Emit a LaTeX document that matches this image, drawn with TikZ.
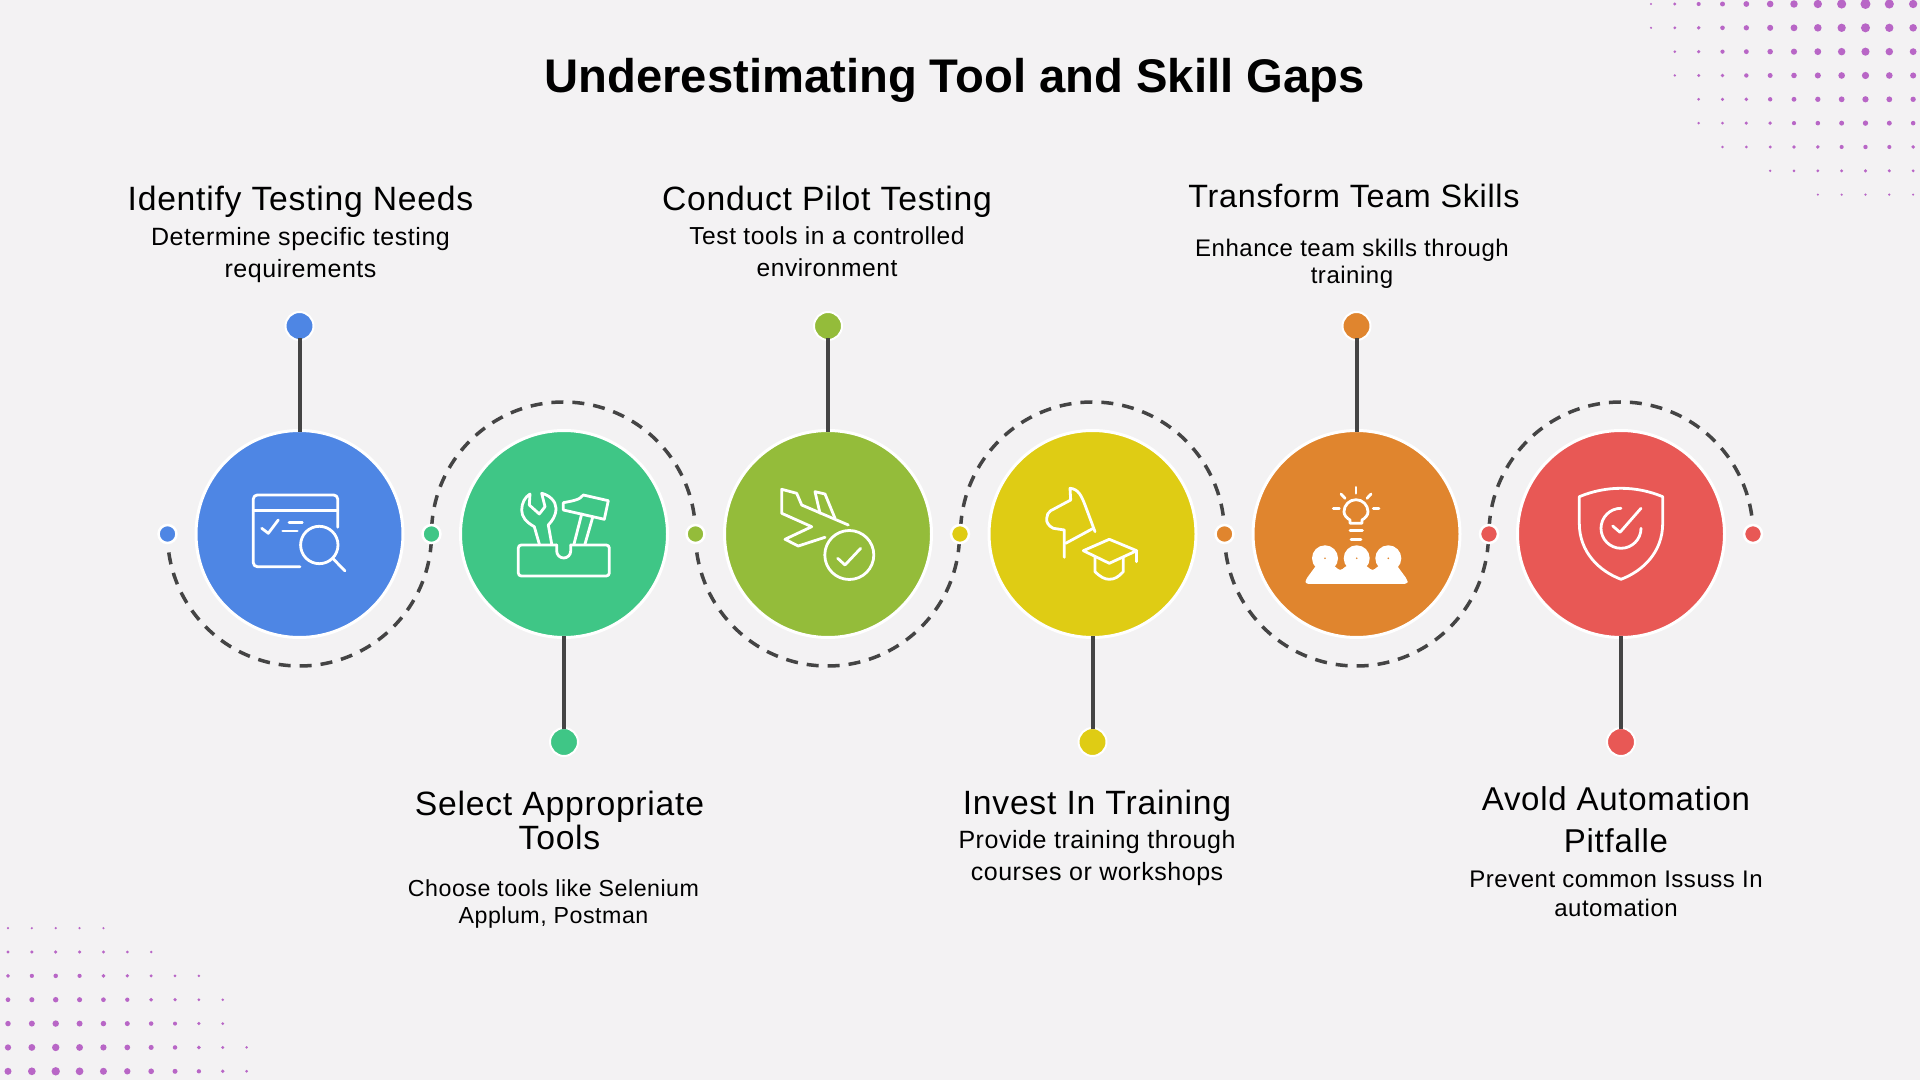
\documentclass[tikz,border=0pt]{standalone}
\usepackage{fontspec}
\setmainfont{Liberation Sans}[LetterSpace=2.2]
\newfontfamily\titlefont{Liberation Sans}
\pgfdeclarelayer{background}
\pgfsetlayers{background,main}
\definecolor{pagebg}{HTML}{F3F2F3}
\definecolor{dotpurple}{HTML}{B866C6}
\definecolor{stemgrey}{HTML}{444444}
\definecolor{stepblue}{HTML}{4E86E4}
\definecolor{stepgreen}{HTML}{3FC686}
\definecolor{stepolive}{HTML}{94BC3A}
\definecolor{stepyellow}{HTML}{DFCC14}
\definecolor{steporange}{HTML}{E0852E}
\definecolor{stepred}{HTML}{E85855}
\tikzset{
  stepnode/.style={circle,draw=white,line width=3pt,minimum size=207pt,inner sep=0pt},
  pinnode/.style={circle,draw=white,line width=2pt,minimum size=28pt,inner sep=0pt},
  linknode/.style={circle,draw=white,line width=2.5pt,minimum size=18pt,inner sep=0pt},
  stemline/.style={stemgrey,line width=4pt,shorten <=-2.5pt,shorten >=-3pt},
  dashline/.style={stemgrey,line width=3.5pt,dash pattern=on 12pt off 9pt,dash phase=2.5pt},
  iconscope/.style={white,line width=2.8pt,line cap=round,line join=round},
  headtext/.style={align=center,inner sep=0pt,font=\fontsize{33.7}{37}\selectfont},
  desctext/.style={align=center,inner sep=0pt,font=\fontsize{25}{32}\selectfont}
}
\begin{document}
\begin{tikzpicture}[x=1pt,y=1pt]
\begin{pgfonlayer}{background}
\fill[pagebg](0,0)rectangle(1920,1080);
\end{pgfonlayer}
\useasboundingbox(0,0)rectangle(1920,1080);
%
\foreach \row/\first in {0/0,1/0,2/1,3/1,4/2,5/2,6/3,7/5,8/7}{
  \foreach \col in {\first,...,11}{
    \pgfmathsetmacro\dotr{0.8+4.2*(1-\row/9)*(1-abs(\col-9)/10)}
    \fill[dotpurple](1651+\col*23.83,1076-\row*23.83) circle (\dotr);
  }
}
\foreach \row/\last in {0/10,1/10,2/9,3/9,4/8,5/6,6/4}{
  \foreach \col in {0,...,\last}{
    \pgfmathsetmacro\dotr{0.8+3.4*(1-\row/7)*(1-abs(\col-2)/10)}
    \fill[dotpurple](8+\col*23.86,8.7+\row*23.86) circle (\dotr);
  }
}
%
\node[font=\titlefont\bfseries\fontsize{47.2}{52}\selectfont,inner sep=0pt] (title) at (954.5,1000) {Underestimating Tool and Skill Gaps};
%
\node[stepnode,fill=stepblue] (step1) at (299.5,546) {};
\node[stepnode,fill=stepgreen] (step2) at (564,546) {};
\node[stepnode,fill=stepolive] (step3) at (828,546) {};
\node[stepnode,fill=stepyellow] (step4) at (1092.5,546) {};
\node[stepnode,fill=steporange] (step5) at (1356.5,546) {};
\node[stepnode,fill=stepred] (step6) at (1621,546) {};
%
\node[pinnode,fill=stepblue] (pin1) at (299.5,754) {};
\node[pinnode,fill=stepgreen] (pin2) at (564,338) {};
\node[pinnode,fill=stepolive] (pin3) at (828,754) {};
\node[pinnode,fill=stepyellow] (pin4) at (1092.5,338) {};
\node[pinnode,fill=steporange] (pin5) at (1356.5,754) {};
\node[pinnode,fill=stepred] (pin6) at (1621,338) {};
%
\node[linknode,fill=stepblue] (link1) at (167.5,546) {};
\node[linknode,fill=stepgreen] (link2) at (431.5,546) {};
\node[linknode,fill=stepolive] (link3) at (695.5,546) {};
\node[linknode,fill=stepyellow] (link4) at (960,546) {};
\node[linknode,fill=steporange] (link5) at (1224.5,546) {};
\node[linknode,fill=stepred] (link6) at (1489,546) {};
\node[linknode,fill=stepred] (link7) at (1753,546) {};
%
\draw[stemline](pin1)--(step1);
\draw[stemline](pin2)--(step2);
\draw[stemline](pin3)--(step3);
\draw[stemline](pin4)--(step4);
\draw[stemline](pin5)--(step5);
\draw[stemline](pin6)--(step6);
%
\begin{pgfonlayer}{background}
\draw[dashline](link1.center) arc[start angle=180,end angle=360,radius=132];
\draw[dashline](link3.center) arc[start angle=0,end angle=180,radius=132];
\draw[dashline](link3.center) arc[start angle=180,end angle=360,radius=132];
\draw[dashline](link5.center) arc[start angle=0,end angle=180,radius=132];
\draw[dashline](link5.center) arc[start angle=180,end angle=360,radius=132];
\draw[dashline](link7.center) arc[start angle=0,end angle=180,radius=132];
\end{pgfonlayer}
%
\begin{scope}[shift={(step1.center)},iconscope]
\draw[rounded corners=4pt](0.5,-32.7)--(-46.2,-32.7)--(-46.2,39)--(38.2,39)--(38.2,6.7);
\draw(-46.2,23.3)--(38.2,23.3);
\draw(-37.8,5.7)--(-31.2,0.7)--(-21.2,14);
\draw(-10.5,11.3)--(2.8,11.3);
\draw(-16.8,3)--(-2.2,3);
\draw(19.8,-11) circle (18.7);
\draw(33.2,-24.3)--(45.5,-37);
\end{scope}
%
\begin{scope}[shift={(step2.center)},iconscope]
\draw[rounded corners=3pt](-7.3,-11)--(-45.7,-11)--(-45.7,-42)--(45.3,-42)--(45.3,-11)--(6.7,-11);
\draw(-7.3,-11)--(-7.3,-17) arc[start angle=180,end angle=360,radius=7]--(6.7,-11);
\draw(-24.7,-10)--(-29.7,7.3) .. controls (-38,12) and (-42.3,17) .. (-42.3,24) .. controls (-42.3,31) and (-39,37) .. (-34,40)--(-34.7,29)--(-24.7,20)--(-19,27.3)--(-22.3,40.7) .. controls (-15,39) and (-8,33) .. (-8,25.7) .. controls (-8,18) and (-12,13) .. (-15.7,9)--(-12.3,-10);
\draw(-0.7,31.3)--(-0.7,24)--(40.3,14.7)--(44.3,33.3)--(19.3,39) .. controls (16,34) and (8,33) .. (-0.7,31.3);
\draw(17.7,20)--(10,-10);
\draw(28.7,16.7)--(21,-10);
\end{scope}
%
\begin{scope}[shift={(step3.center)},iconscope]
\draw(20.3,9)--(-26.3,29)--(-31.3,40.7)--(-46.3,44.7)--(-46.3,20.7)--(-16.3,7.3)--(-43,-5.3)--(-29.7,-12)--(-3,-3.3);
\draw(-8,20.7)--(-13,42.3)--(-3,40)--(7,15.7);
\draw(21.3,-21) circle (24.5);
\draw(9.7,-24.3)--(17,-31)--(32.7,-14.3);
\end{scope}
%
\begin{scope}[shift={(step4.center)},iconscope]
\draw(-28.2,-23.3)--(-28.2,4)--(-39.2,5.7) .. controls (-44,8) and (-46.5,12) .. (-45.8,15.7) .. controls (-46,19) and (-44,22) .. (-41.8,23.3)--(-21.8,34)--(-22.5,45.7) .. controls (-14,45) and (-11,38) .. (-7.5,29)--(2.5,2.3);
\draw(-26.8,-9.3)--(0.8,5.7);
\draw(-9.2,-16.7)--(16.8,-5.3)--(44.2,-16.7)--(16.8,-29.3)--cycle;
\draw(44.2,-16.7)--(44.2,-27.7);
\draw(2.5,-23.3)--(2.5,-37.7) .. controls (8,-43) and (12,-45.3) .. (16.8,-45.3) .. controls (22,-45.3) and (26,-43) .. (30.8,-37.7)--(30.8,-23.3);
\end{scope}
%
\begin{scope}[shift={(step5.center)},iconscope]
\draw(-6.5,10.7)--(-6.5,14) .. controls (-10,16) and (-12.5,19) .. (-12.5,22.3) arc[start angle=180,end angle=0,radius=12] .. controls (11.5,19) and (9,16) .. (5.5,14)--(5.5,10.7)--cycle;
\draw(-0.5,46.7)--(-0.5,40.7);
\draw(-15.5,40)--(-11.5,35.7);
\draw(14.5,40)--(10.5,35.7);
\draw(-23.2,25.7)--(-17.2,25.7);
\draw(16.8,25.7)--(22.5,25.7);
\draw(-6.5,3.3)--(6,3.3);
\draw(-5.5,-5.3)--(4.5,-5.3);
\fill(-31.5,-24.3) circle (13);
\fill(0.2,-24.3) circle (13);
\fill(31.8,-24.3) circle (13);
\fill[rounded corners=3pt](-51,-50)--(-51,-46)--(-40,-31)--(-23,-31)--(-16.5,-37)--(-9,-31)--(9,-31)--(16,-37)--(23,-31)--(40,-31)--(51,-46)--(51,-50)--cycle;
\fill[steporange](-31.5,-24.3) circle (0.9);
\fill[steporange](0.2,-24.3) circle (0.9);
\fill[steporange](31.8,-24.3) circle (0.9);
\end{scope}
%
\begin{scope}[shift={(step6.center)},iconscope]
\draw(-41.7,37.3) .. controls (-28,43) and (-14,45.7) .. (0,45.7) .. controls (14,45.7) and (28,43) .. (41.7,37.3)--(41.7,10.7) .. controls (41.7,-18) and (22,-37) .. (0,-45.3) .. controls (-22,-37) and (-41.7,-18) .. (-41.7,10.7)--cycle;
\draw(0,25.7) arc[start angle=90,end angle=360,radius=20];
\draw(-8.3,8)--(-1,1.7)--(20,25.7);
\end{scope}
%
\node[headtext] (head1) at (300.5,878) {Identify Testing Needs};
\node[desctext] (desc1) at (300.5,825) {Determine specific testing\\requirements};
\node[headtext] (head2) at (559.5,260) {Select Appropriate\\[-3pt]Tools};
\node[desctext,font=\fontsize{23.2}{32}\selectfont] (desc2) at (553.5,175.5) {Choose tools like Selenium\\[-5pt]Applum, Postman};
\node[headtext] (head3) at (827,878) {Conduct Pilot Testing};
\node[desctext,font=\fontsize{24.6}{32}\selectfont] (desc3) at (827,828) {Test tools in a controlled\\environment};
\node[headtext] (head4) at (1097,274.5) {Invest In Training};
\node[desctext] (desc4) at (1097,221.5) {Provide training through\\courses or workshops};
\node[headtext,font=\fontsize{32.3}{37}\selectfont] (head5) at (1354,884) {Transform Team Skills};
\node[desctext,font=\fontsize{24}{32}\selectfont] (desc5) at (1352,816.3) {Enhance team skills through\\[-5pt]training};
\node[headtext,font=\fontsize{33}{37}\selectfont] (head6) at (1616,260) {Avold Automation\\[5pt]Pitfalle};
\node[desctext,font=\fontsize{24}{32}\selectfont] (desc6) at (1616,186) {Prevent common Issuss In\\[-3pt]automation};
\end{tikzpicture}
\end{document}
